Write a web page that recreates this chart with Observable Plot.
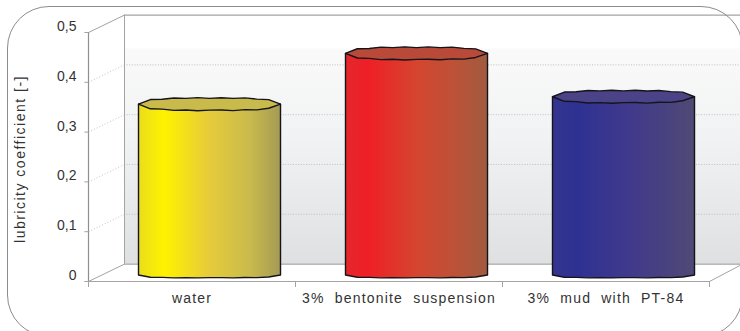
<!DOCTYPE html>
<html>
<head>
<meta charset="utf-8">
<script src="https://cdn.jsdelivr.net/npm/d3@7"></script>
<script src="https://cdn.jsdelivr.net/npm/@observablehq/plot@0.6"></script>
<style>
  html, body { margin: 0; background: #fff; overflow: hidden; }
  #chart { position: relative; width: 740px; height: 331px; overflow: hidden; }
  #frame { position: absolute; left: 7px; top: 6px; width: 734px; height: 329px;
           border: 1px solid #8c8c8c; border-radius: 42px; pointer-events: none; }
  svg { display: block; }
  .category-label text { letter-spacing: 1.2px; word-spacing: 5px; }
  .axis-title text { letter-spacing: 1.5px; }
</style>
</head>
<body>
<div id="chart"><div id="frame"></div></div>
<script>
// Lubricity coefficient per drilling fluid
const categories = ["water", "3% bentonite suspension", "3% mud with PT-84"];
const lubricity = [0.343, 0.445, 0.358];
const yTicks = [0, 0.1, 0.2, 0.3, 0.4, 0.5];

const sideFills = ["url(#cyl0)", "url(#cyl1)", "url(#cyl2)"];
const rimFills = ["#c8bb4c", "#b94a3a", "#4a4387"];
const gradientStops = [
  [["0%", "#e9dd1c"], ["18%", "#fff200"], ["50%", "#e6cb3a"], ["78%", "#c9bb4c"], ["100%", "#a59a55"]],
  [["0%", "#e4272c"], ["16%", "#ef1f26"], ["50%", "#d5452f"], ["78%", "#bb5238"], ["100%", "#a15b40"]],
  [["0%", "#34358f"], ["18%", "#2e3192"], ["55%", "#413a8c"], ["80%", "#48427f"], ["100%", "#504a75"]]
];

// Pseudo-3D box: depth of the chart volume, in scale units
const depthX = 0.174;
const depthY = 0.035;
const xRight = 3.16;
const barHalf = 0.343;
const barCentre = 0.5 + depthX / 2;
const baseLift = 0.012;
const rimRy = 0.0125;
const baseRy = 0.0055;

// Small irregularities along the hand-drawn rims
const rimUpperWobble = [0, .0008, -.0006, .0009, -.0005, .0007, -.0008, .0006, -.0006, .0010, -.0004, .0006, 0];
const rimLowerWobble = [0, -.0006, .0007, -.0008, .0005, -.0007, .0006, .0008, -.0006, .0007, -.0008, .0005, 0];

const fmt = d => d === 0 ? "0" : String(d).replace(".", ",");

const table = categories.map((name, i) => ({name, i, value: lubricity[i]}));

// Cylinder outlines sampled as super-ellipses so the flat facets read like the drawing
const steps = d3.range(13).map(k => k / 12);
function halfOval(u, power) {
  return Math.pow(Math.max(0, 1 - Math.pow(Math.abs(2 * u - 1), power)), 1 / power);
}
function bodyOf(row) {
  const c = row.i + barCentre;
  const top = row.value + baseLift;
  return steps.map((u, k) => ({
    x: c - barHalf + 2 * barHalf * u,
    y1: top,
    y2: baseLift - baseRy * halfOval(u, 3.2) + rimLowerWobble[k] * 0.4
  }));
}
function rimOf(row) {
  const c = row.i + barCentre;
  const top = row.value + baseLift;
  return steps.map((u, k) => ({
    x: c - barHalf + 2 * barHalf * u,
    y1: top + rimRy * halfOval(u, 2.6) + rimUpperWobble[k],
    y2: top - rimRy * halfOval(u, 2.6) + rimLowerWobble[k]
  }));
}

const defs = () => {
  const d = d3.create("svg:defs");
  const wall = d.append("linearGradient").attr("id", "wall")
    .attr("x1", 0).attr("x2", 0).attr("y1", 0).attr("y2", 1);
  [["0%", "#ffffff"], ["13%", "#ffffff"], ["14%", "#fafafa"], ["50%", "#f1f2f3"], ["100%", "#dfe0e2"]]
    .forEach(([o, c]) => wall.append("stop").attr("offset", o).attr("stop-color", c));
  gradientStops.forEach((stops, i) => {
    const g = d.append("linearGradient").attr("id", `cyl${i}`);
    stops.forEach(([o, c]) => g.append("stop").attr("offset", o).attr("stop-color", c));
  });
  return d.node();
};

const lineColor = "#a3a3a3";
const gridColor = "#b4b4b4";
const gridTicks = yTicks.slice(1, 5);

const plot = Plot.plot({
  width: 740,
  height: 331,
  marginLeft: 88,
  marginRight: 31,
  marginTop: 32,
  marginBottom: 50,
  style: {background: "transparent", overflow: "visible"},
  x: {domain: [0, 3], axis: null},
  y: {domain: [0, 0.5], axis: null},
  marks: [
    defs,
    // back wall
    Plot.rect([0], {x1: depthX, x2: xRight, y1: depthY, y2: 0.5 + depthY, fill: "url(#wall)"}),
    // dotted grid across the side and back walls
    Plot.link(gridTicks, {x1: () => 0, y1: d => d, x2: () => depthX, y2: d => d + depthY,
      stroke: gridColor, strokeWidth: 0.8, strokeDasharray: "1 2"}),
    Plot.ruleY(gridTicks, {y: d => d + depthY, x1: depthX, x2: xRight,
      stroke: gridColor, strokeWidth: 0.8, strokeDasharray: "1 1.6"}),
    // box edges
    Plot.link([0, 0.5], {x1: () => 0, y1: d => d, x2: () => depthX, y2: d => d + depthY, stroke: lineColor, strokeWidth: 1}),
    Plot.link([0], {x1: () => 3, y1: () => 0, x2: () => xRight, y2: () => depthY, stroke: lineColor, strokeWidth: 1}),
    Plot.ruleX([depthX], {y1: depthY, y2: 0.5 + depthY, stroke: lineColor, strokeWidth: 1}),
    Plot.ruleY([depthY, 0.5 + depthY], {x1: depthX, x2: xRight, stroke: lineColor, strokeWidth: 1.2}),
    Plot.ruleX([0], {y1: 0, y2: 0.5, stroke: "#8f8f8f", strokeWidth: 1.2}),
    Plot.ruleY([0], {x1: 0, x2: 3, stroke: lineColor, strokeWidth: 1}),
    // axis ticks
    Plot.link(yTicks, {x1: () => -0.02, y1: d => d, x2: () => 0, y2: d => d, stroke: lineColor, strokeWidth: 1}),
    Plot.ruleX([0, 1, 2, 3], {y1: 0, y2: -0.012, stroke: lineColor, strokeWidth: 1}),
    // cylinders
    ...table.flatMap(row => [
      Plot.area(bodyOf(row), {x1: "x", y1: "y1", y2: "y2", fill: sideFills[row.i],
        stroke: "#14141a", strokeWidth: 1.4}),
      Plot.area(rimOf(row), {x1: "x", y1: "y1", y2: "y2", fill: rimFills[row.i],
        stroke: "#14141a", strokeWidth: 1.4})
    ]),
    // labels
    Plot.text(yTicks, {x: () => 0, y: d => d, text: fmt, textAnchor: "end", dx: -12, dy: -6,
      fontFamily: "Liberation Sans", fontSize: 14, fill: "#333"}),
    Plot.text(table, {x: d => d.i + 0.5, y: () => 0, text: "name", dy: 17,
      fontFamily: "Liberation Sans", fontSize: 14, fill: "#333", className: "category-label"}),
    Plot.text(["lubricity coefficient [-]"], {x: () => 0, y: () => 0.246, text: d => d, rotate: -90, dx: -68,
      fontFamily: "Liberation Sans", fontSize: 14, fill: "#333", className: "axis-title"})
  ]
});
document.getElementById("chart").prepend(plot);
</script>
</body>
</html>
